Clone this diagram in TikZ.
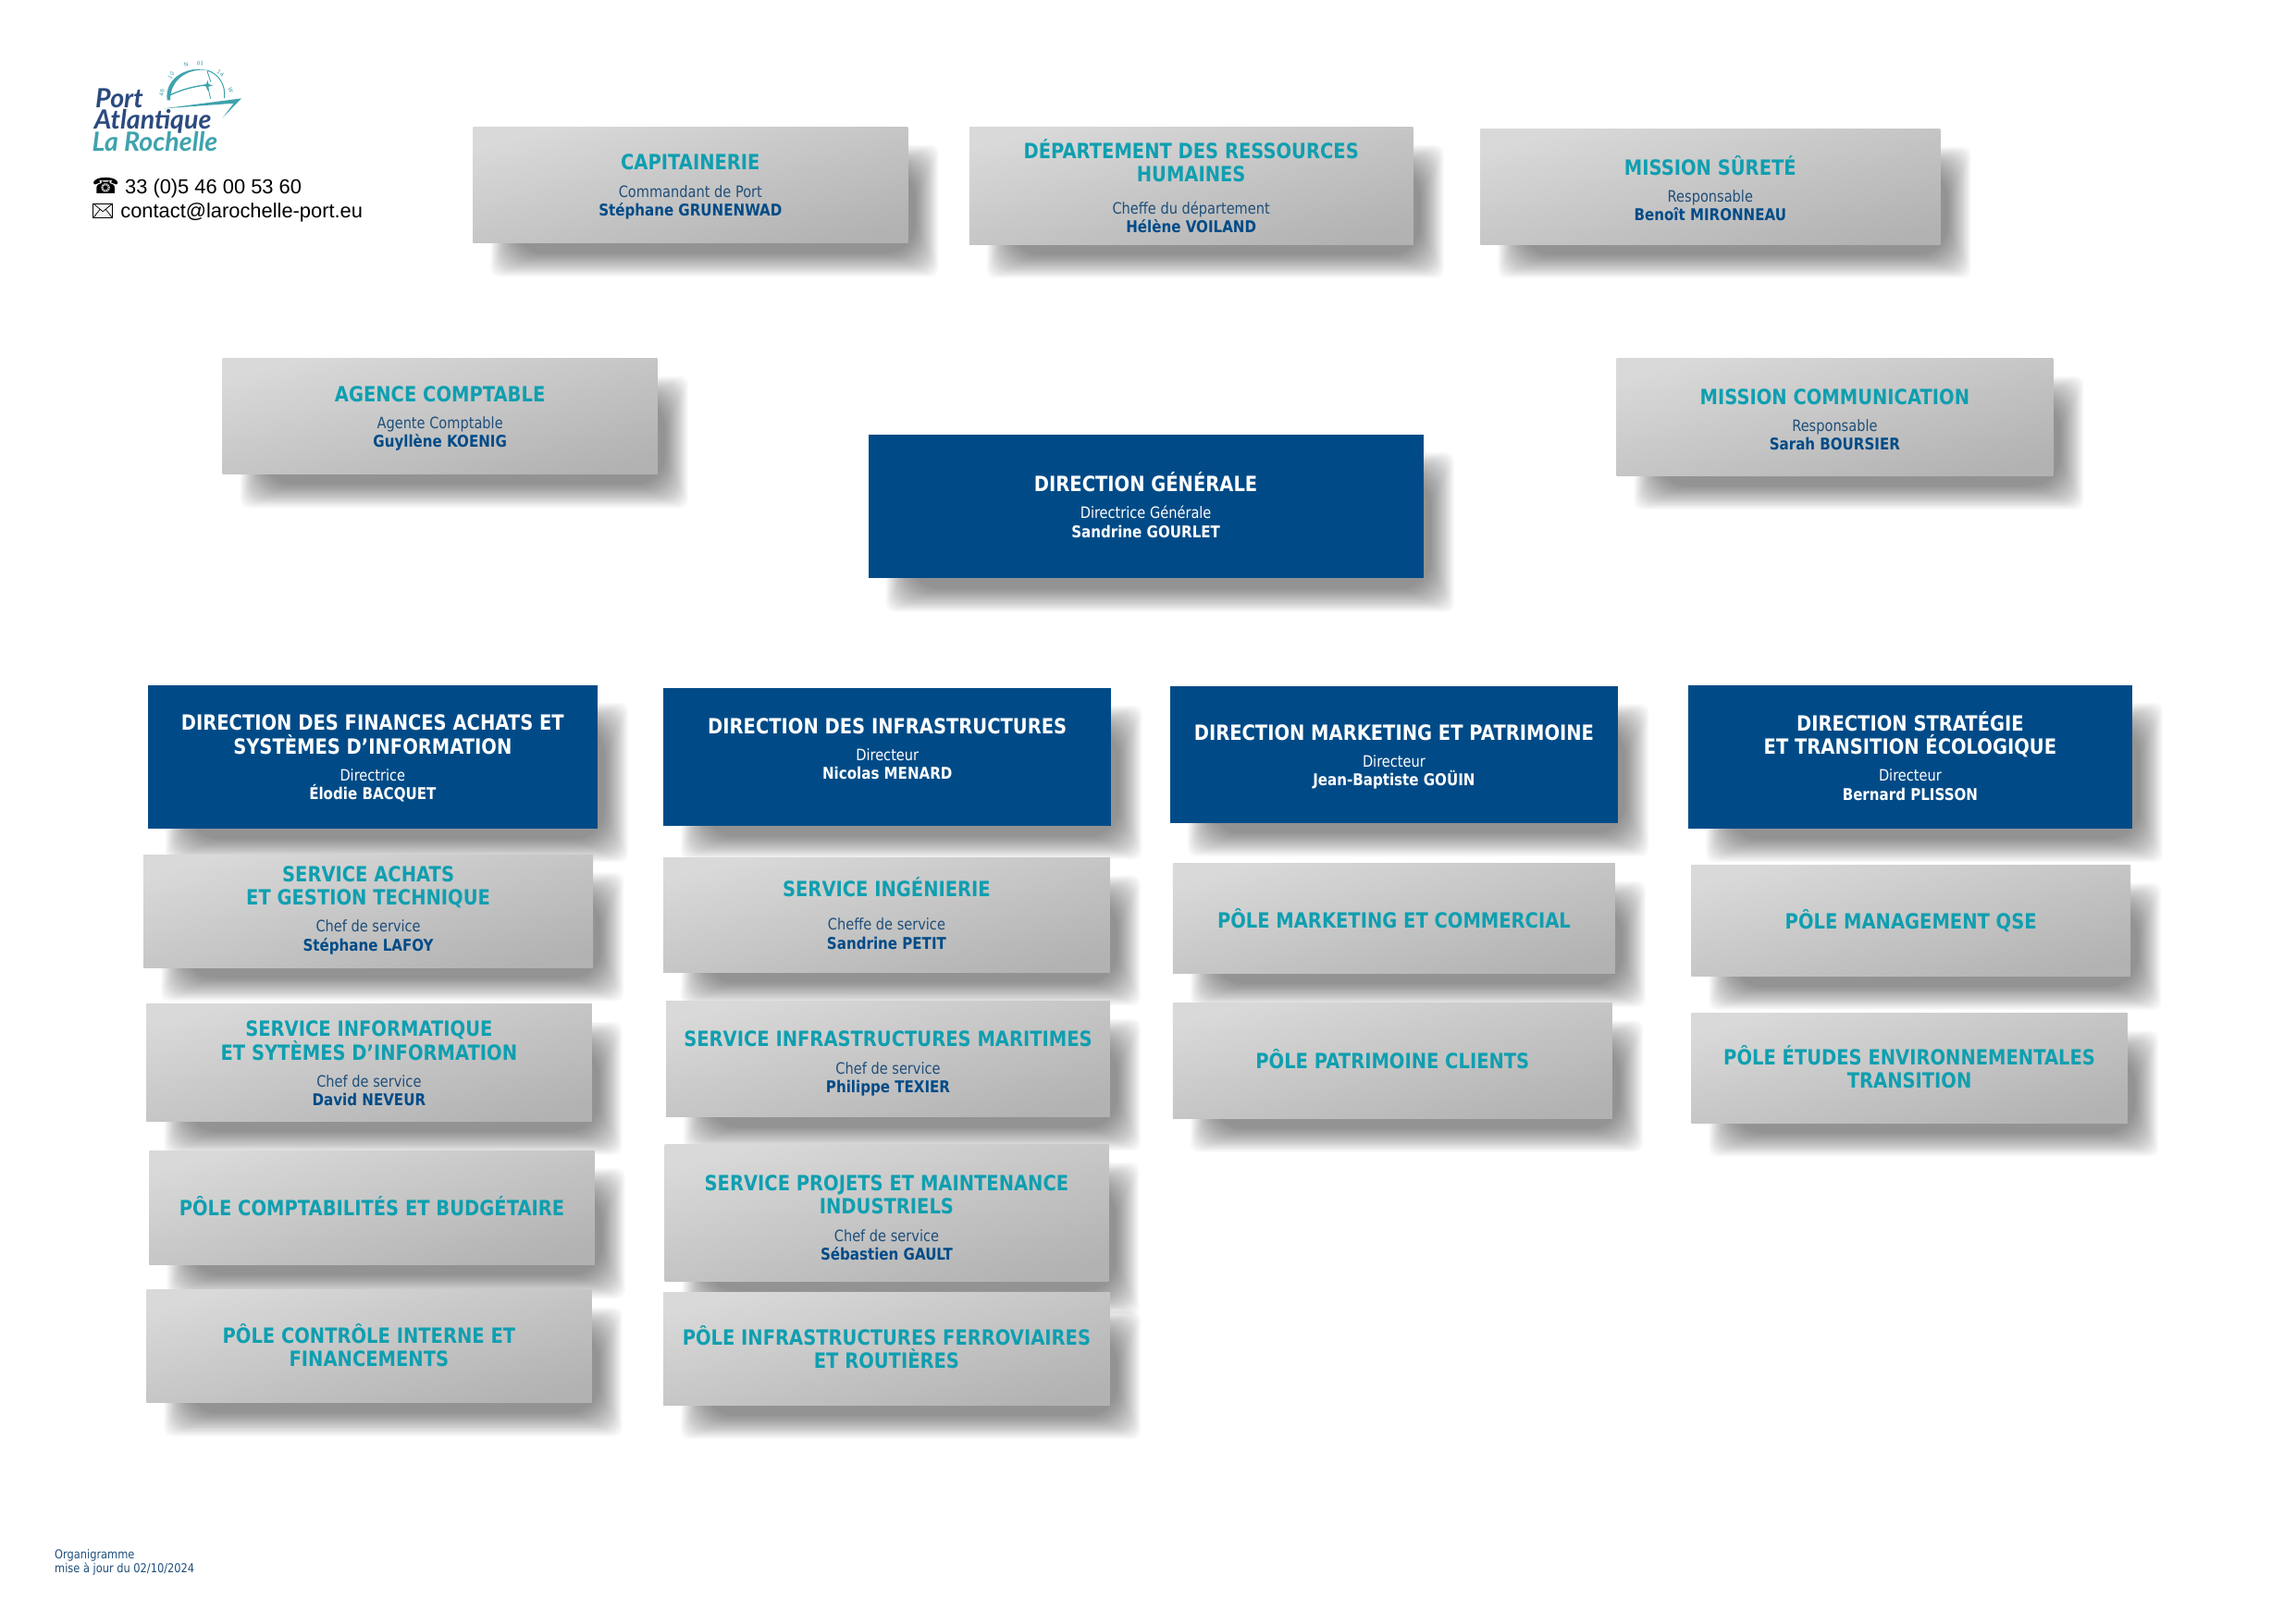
\documentclass[tikz,border=0pt]{standalone}
\usepackage{fontspec}
\setmainfont{DejaVu Sans}[FakeStretch=0.86]
\newfontfamily\arialf{Liberation Sans}
\newfontfamily\symf{DejaVu Sans}
\newfontfamily\logof{Lato}
\usetikzlibrary{calc}
\pgfdeclarelayer{paperlayer}
\pgfdeclarelayer{shadowlayer}
\pgfsetlayers{paperlayer,shadowlayer,main}
\definecolor{navy}{HTML}{004B87}
\definecolor{tealc}{HTML}{0F9FB0}
\definecolor{subnavy}{HTML}{1F4E79}
\definecolor{logoblue}{HTML}{2B4A80}
\definecolor{logoteal}{HTML}{3FA3AD}
\colorlet{ttlc}{tealc}
\colorlet{subc}{subnavy}
\colorlet{nmc}{navy}
\tikzset{
  x=0.5371pt,y=-0.5371pt,
  orgbase/.style={rectangle,inner sep=0pt,outer sep=0pt,draw=none,align=flush center},
  greybox/.style={orgbase,top color=black!15,bottom color=black!30,shading angle=15},
  dirbox/.style={orgbase,fill=navy,execute at begin node={\colorlet{ttlc}{white}\colorlet{subc}{white}\colorlet{nmc}{white}}},
  softshadow/.style={fill=black,opacity=0.022,draw=none},
  contact/.style={anchor=base west,inner sep=0pt,font=\arialf\fontsize{7.42}{8.6}\selectfont,text=black},
  icon/.style={anchor=base west,inner sep=0pt,font=\symf\fontsize{8}{9}\selectfont,text=black},
  foot/.style={anchor=base west,inner sep=0pt,font=\fontsize{4.5}{5.4}\selectfont,text=subnavy},
  logoword/.style={anchor=base west,inner sep=0pt,font=\logof\bfseries\itshape\fontsize{9.7}{11}\selectfont},
  dial/.style={inner sep=0pt,font=\symf\fontsize{2}{2}\selectfont,text=logoteal},
  envline/.style={draw=black,line width=0.25pt},
}
\newcommand\ttl[1]{{\fontsize{7.7}{8.6}\selectfont\bfseries\color{ttlc}#1\par}\vspace{3pt}}
\newcommand\ttlonly[1]{{\fontsize{7.7}{8.6}\selectfont\bfseries\color{ttlc}#1\par}}
\newcommand\who[2]{{\fontsize{5.75}{6.9}\selectfont\color{subc}#1\par}{\fontsize{5.95}{6.9}\selectfont\bfseries\color{nmc}#2\par}}
% \adj{n}: moves the text block of a box down by n picture units (up if negative)
\newcommand\adj[1]{\pgfmathsetlengthmacro\adjv{-1.0742*(#1)}\vspace{\adjv}\nointerlineskip\hbox{}}
% \orgbox{style}{name}{x1}{y1}{x2}{y2}{text}
\newcommand\orgbox[7]{%
  \begin{pgfonlayer}{shadowlayer}
    \foreach \k in {0,...,20}{
      \path[softshadow,rounded corners=3+0.4*\k]
        ({#3+12+\k*0.8},{#4+12+\k*0.8}) rectangle ({#5+21-\k*0.8},{#6+23-\k*0.8});
    }
  \end{pgfonlayer}
  \pgfmathsetmacro\bw{(#5-#3)*0.5371}
  \pgfmathsetmacro\bh{(#6-#4)*0.5371}
  \node[#1,minimum width=\bw pt,minimum height=\bh pt,text width=\bw pt] (#2) at ({(#3+#5)/2},{(#4+#6)/2}) {#7};
}
\begin{document}
\begin{tikzpicture}
\useasboundingbox (0,0) rectangle (1568,1109);
\begin{pgfonlayer}{paperlayer}
\fill[white] (0,0) rectangle (1568,1109);
\end{pgfonlayer}

% logo
\begin{scope}[shift={(37.9,25.3)},x=0.5371pt*0.2106,y=-0.5371pt*0.2106]
  \fill[logoteal] (362,205) .. controls (352,125) and (440,92) .. (492,108)
     .. controls (440,100) and (372,130) .. (372,205) -- cycle;
  \draw[logoteal,line width=0.35pt] (492,108) .. controls (530,120) and (552,155) .. (548,198);
  \draw[logoteal,line width=0.45pt] (372,188) .. controls (410,170) and (450,160) .. (490,155);
  \draw[logoteal,line width=0.3pt] (495,165) -- (503,200);
  \draw[logoteal,line width=0.3pt] (492,110) -- (503,145);
  \fill[logoteal] (493,140) -- (497,153) -- (510,157) -- (497,161) -- (493,175) -- (489,161) -- (476,157) -- (489,153) -- cycle;
  \fill[logoteal] (350,232) -- (603,199) -- (542,262) -- (578,215) -- cycle;
  \node[dial,rotate=80] (dial1) at (345,180) {46};
  \node[dial,rotate=55] (dial2) at (375,125) {10};
  \node[dial,rotate=15] (dial3) at (424,90) {N};
  \node[dial,rotate=-5] (dial4) at (470,85) {01};
  \node[dial,rotate=-35] (dial5) at (535,118) {14};
  \node[dial,rotate=-70] (dial6) at (568,172) {W};
  \node[logoword,text=logoblue] (logoa) at (128,228) {Port};
  \node[logoword,text=logoblue] (logob) at (124,297) {Atlantique};
  \node[logoword,text=logoteal] (logoc) at (117,371) {La Rochelle};
\end{scope}

% contact
\node[icon] (tel) at (62.5,132.5) {☎};
\node[contact] (telt) at (85,132.5) {33 (0)5 46 00 53 60};
\draw[envline,fill=white!95!black] (63.6,139) rectangle (76.9,149);
\draw[envline] (63.6,139) -- (70.25,144.5) -- (76.9,139);
\draw[envline] (63.6,149) -- (68.3,143);
\draw[envline] (76.9,149) -- (72.2,143);
\node[contact] (mail) at (82,148.5) {contact@larochelle-port.eu};

% top row
\orgbox{greybox}{cap}{323}{87}{620}{166}{\ttl{CAPITAINERIE}\who{Commandant de Port}{Stéphane GRUNENWAD}\adj{1.2}}
\orgbox{greybox}{drh}{662}{87}{965}{167}{\ttl{DÉPARTEMENT DES RESSOURCES\\HUMAINES}\vspace{1.9pt}\who{Cheffe du département}{Hélène VOILAND}}
\orgbox{greybox}{sur}{1011}{88}{1325}{167}{\ttl{MISSION SÛRETÉ}\who{Responsable}{Benoît MIRONNEAU}\adj{1}}
\orgbox{greybox}{agc}{152}{245}{449}{324}{\ttl{AGENCE COMPTABLE}\who{Agente Comptable}{Guyllène KOENIG}\adj{1.5}}
\orgbox{greybox}{com}{1104}{245}{1402}{325}{\ttl{MISSION COMMUNICATION}\who{Responsable}{Sarah BOURSIER}\adj{1.5}}
\orgbox{dirbox}{dg}{593}{297}{972}{395}{\ttl{DIRECTION GÉNÉRALE}\who{Directrice Générale}{Sandrine GOURLET}\adj{-1}}

% directions
\orgbox{dirbox}{dfin}{101}{468}{408}{566}{\ttl{DIRECTION DES FINANCES ACHATS ET\\SYSTÈMES D’INFORMATION}\who{Directrice}{Élodie BACQUET}\adj{1}}
\orgbox{dirbox}{dinf}{453}{470}{759}{564}{\ttl{DIRECTION DES INFRASTRUCTURES}\who{Directeur}{Nicolas MENARD}\adj{-5.5}}
\orgbox{dirbox}{dmkt}{799}{469}{1105}{562}{\ttl{DIRECTION MARKETING ET PATRIMOINE}\who{Directeur}{Jean-Baptiste GOÜIN}\adj{1.5}}
\orgbox{dirbox}{dstr}{1153}{468}{1456}{566}{\ttl{DIRECTION STRATÉGIE\\ET TRANSITION ÉCOLOGIQUE}\who{Directeur}{Bernard PLISSON}\adj{-0.7}}

% column 1
\orgbox{greybox}{sach}{98}{584}{405}{661}{\ttl{SERVICE ACHATS\\ET GESTION TECHNIQUE}\who{Chef de service}{Stéphane LAFOY}\adj{-0.8}}
\orgbox{greybox}{sinfo}{100}{686}{404}{766}{\ttl{SERVICE INFORMATIQUE\\ET SYTÈMES D’INFORMATION}\who{Chef de service}{David NEVEUR}\adj{0.5}}
\orgbox{greybox}{pcpt}{102}{786}{406}{864}{\ttlonly{PÔLE COMPTABILITÉS ET BUDGÉTAIRE}\adj{-1}}
\orgbox{greybox}{pctl}{100}{881}{404}{958}{\ttlonly{PÔLE CONTRÔLE INTERNE ET\\FINANCEMENTS}\adj{-0.7}}

% column 2
\orgbox{greybox}{sing}{453}{586}{758}{664}{\ttl{SERVICE INGÉNIERIE}\vspace{2.3pt}\who{Cheffe de service}{Sandrine PETIT}\adj{-1}}
\orgbox{greybox}{smar}{455}{684}{758}{763}{\ttl{SERVICE INFRASTRUCTURES MARITIMES}\who{Chef de service}{Philippe TEXIER}\adj{3}}
\orgbox{greybox}{spro}{454}{782}{757}{875}{\ttl{SERVICE PROJETS ET MAINTENANCE\\INDUSTRIELS}\who{Chef de service}{Sébastien GAULT}\adj{3.3}}
\orgbox{greybox}{pinf}{453}{883}{758}{960}{\ttlonly{PÔLE INFRASTRUCTURES FERROVIAIRES\\ET ROUTIÈRES}\adj{-1.2}}

% column 3
\orgbox{greybox}{pmkt}{801}{590}{1103}{665}{\ttlonly{PÔLE MARKETING ET COMMERCIAL}}
\orgbox{greybox}{ppat}{801}{685}{1101}{764}{\ttlonly{PÔLE PATRIMOINE CLIENTS}\adj{-1}}

% column 4
\orgbox{greybox}{pqse}{1155}{591}{1455}{667}{\ttlonly{PÔLE MANAGEMENT QSE}}
\orgbox{greybox}{petu}{1155}{692}{1453}{767}{\ttlonly{PÔLE ÉTUDES ENVIRONNEMENTALES\\TRANSITION}\adj{-0.5}}

% footer
\node[foot] (fa) at (37,1065) {Organigramme};
\node[foot] (fb) at (37,1074) {mise à jour du 02/10/2024};
\end{tikzpicture}
\end{document}
